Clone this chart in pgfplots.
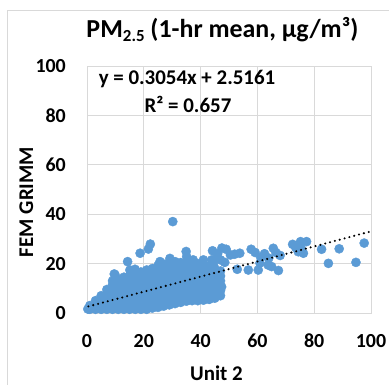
\documentclass[border=0pt]{standalone}
\usepackage{pgfplots}
\pgfplotsset{compat=1.18}
\usepackage{fontspec}
\setmainfont{Carlito}
\definecolor{ptblue}{HTML}{5B9BD5}
\definecolor{gridgray}{HTML}{D9D9D9}

\pgfplotstableread{
x y
0.3 1.6
1 1.5
1 3
3 1.5
3 3.5
3 5
5 1.5
5 3.5
5 5.5
5 7
7 1.5
7 3.5
7 5.5
7 7.5
7 9.5
9 1.5
9 3.5
9 5.5
9 7.5
9 9.5
9 11.5
9 13
11 1.5
11 3.5
11 5.5
11 7.5
11 9.5
11 11.5
11 13.5
13 1.5
13 3.5
13 5.5
13 7.5
13 9.5
13 11.5
13 13.5
13 14.5
15 1.5
15 3.5
15 5.5
15 7.5
15 9.5
15 11.5
15 13.5
15 15.2
17 1.5
17 3.5
17 5.5
17 7.5
17 9.5
17 11.5
17 13.5
17 15.5
19 1.5
19 3.5
19 5.5
19 7.5
19 9.5
19 11.5
19 13.5
19 15.5
19 16.6
21 1.5
21 3.5
21 5.5
21 7.5
21 9.5
21 11.5
21 13.5
21 15.5
21 17.4
23 2
23 4
23 6
23 8
23 10
23 12
23 14
23 16
23 18
25 2.3
25 4.3
25 6.3
25 8.3
25 10.3
25 12.3
25 14.3
25 16.3
25 18.3
25 19.2
27 2.8
27 4.8
27 6.8
27 8.8
27 10.8
27 12.8
27 14.8
27 16.8
27 18.8
27 19.8
29 3.3
29 5.3
29 7.3
29 9.3
29 11.3
29 13.3
29 15.3
29 17.3
29 19.3
29 20.6
31 3.8
31 5.8
31 7.8
31 9.8
31 11.8
31 13.8
31 15.8
31 17.8
31 19.8
31 20.8
33 4.3
33 6.3
33 8.3
33 10.3
33 12.3
33 14.3
33 16.3
33 18.3
33 20.4
35 4.8
35 6.8
35 8.8
35 10.8
35 12.8
35 14.8
35 16.8
35 18.8
35 20
37 5
37 7
37 9
37 11
37 13
37 15
37 17
37 19
37 20
39 5
39 7
39 9
39 11
39 13
39 15
39 17
39 19
39 20
41 5.2
41 7.2
41 9.2
41 11.2
41 13.2
41 15.2
41 17.2
41 19.2
43 5.5
43 7.5
43 9.5
43 11.5
43 13.5
43 15.5
43 17.5
43 19
45 6
45 8
45 10
45 12
45 14
45 16
45 18
47 7
47 9
47 11
47 13
47 15
47 17
30.2 37.0
22.3 27.9
21.6 25.9
18.7 24.2
14.3 20.8
9.6 15.8
9.9 15.4
15.1 17.4
16.9 17.7
29.2 22.1
25.7 20.8
35.1 22.8
37.4 21.5
34.9 24.9
41.0 21.5
43.9 21.5
44.2 25.2
46.0 24.0
47.5 26.3
49.0 25.8
50.5 23.5
52.0 23.8
53.8 24.2
45.5 22.0
47.0 21.5
48.5 20.5
44.5 19.5
57.8 25.8
59.2 24.5
61.2 22.5
62.5 24.0
64.0 22.2
65.6 26.2
66.5 24.5
68.0 23.3
56.8 17.4
60.3 17.4
63.8 19.4
65.0 18.8
67.4 17.2
60.9 20.2
52.9 17.7
72.4 27.8
75.2 28.9
77.3 28.9
74.4 24.8
76.2 24.2
73.5 26.5
75.5 26.0
82.6 25.8
88.8 26.0
97.6 28.3
85.0 20.1
94.7 20.5
46.8 10.0
47.4 10.6
46.2 14.7
}\scatterdata

\begin{document}
\begin{tikzpicture}
\useasboundingbox (0bp,0bp) rectangle (389bp,-385bp);
\draw[gridgray, line width=1bp] (7bp,-400bp) -- (7bp,-10bp) -- (400bp,-10bp);
\begin{axis}[
  at={(87bp,-313bp)}, anchor=south west,
  scale only axis, width=284bp, height=247bp,
  xmin=0, xmax=100, ymin=0, ymax=100,
  xtick={0,20,...,100}, ytick={0,20,...,100},
  grid=major,
  major grid style={draw=gridgray, line width=1bp},
  axis line style={draw=gridgray, line width=1bp},
  major tick length=0pt,
  clip=false,
  clip marker paths=true,
  /pgf/number format/assume math mode=true,
  tick label style={font=\fontsize{20}{24}\selectfont\bfseries, text=black},
  xticklabel style={anchor=base, inner sep=0pt, yshift=-34bp},
  yticklabel style={anchor=east, inner sep=0pt, xshift=-21bp},
]
\addplot[only marks, mark=*, color=ptblue, mark size=4.6bp] table[x=x, y=y] {\scatterdata};
\addplot[black, line width=2.3bp, line cap=round, dash pattern=on 0bp off 5bp] coordinates {(0.5,2.669) (100,33.056)};
\end{axis}
\node[anchor=base, inner sep=0pt] at (222.5bp,-37.3bp) {\fontsize{26}{30}\selectfont\bfseries PM{\raisebox{-0.3ex}{\fontsize{17}{19}\selectfont\bfseries 2.5}} (1-hr mean, µg/m³)};
\node[anchor=base, inner sep=0pt] at (216.5bp,-380.7bp) {\fontsize{21}{25}\selectfont\bfseries Unit 2};
\node[rotate=90, anchor=base, inner sep=0pt] at (33bp,-202bp) {\fontsize{21}{25}\selectfont\bfseries FEM GRIMM};
\node[anchor=base, inner sep=0pt] at (187bp,-84bp) {\fontsize{21}{25}\selectfont\bfseries y = 0.3054x + 2.5161};
\node[anchor=base, inner sep=0pt] at (188bp,-112.7bp) {\fontsize{21}{25}\selectfont\bfseries R² = 0.657};
\end{tikzpicture}
\end{document}
